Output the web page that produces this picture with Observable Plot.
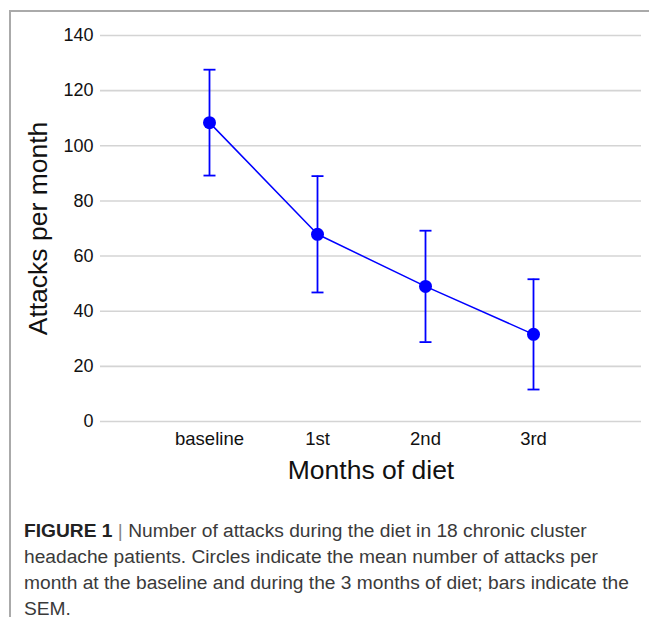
<!DOCTYPE html>
<html>
<head>
<meta charset="utf-8">
<script src="https://cdn.jsdelivr.net/npm/d3@7"></script>
<script src="https://cdn.jsdelivr.net/npm/@observablehq/plot@0.6"></script>
<style>
  html, body { margin: 0; padding: 0; background: #fff; }
  body { width: 649px; height: 622px; position: relative; overflow: hidden; font-family: "Liberation Sans", Arial, sans-serif; }
  #frame { position: absolute; left: 9px; top: 10px; width: 700px; height: 607px; border-top: 2px solid #aaaaaa; border-left: 2px solid #aaaaaa; box-sizing: border-box; }
  #chart { position: absolute; left: 0; top: 0; }
  #caption { position: absolute; left: 24px; top: 518px; width: 625px; white-space: nowrap; font-family: "Liberation Sans", Arial, sans-serif; font-size: 19.2px; line-height: 26px; color: #3a3a3a; }
  #caption b { color: #222; }
  #caption .bar { color: #888; }
</style>
</head>
<body>
<div id="frame"></div>
<div id="chart"></div>
<div id="caption"><b>FIGURE 1</b> <span class="bar">|</span> Number of attacks during the diet in 18 chronic cluster<br>headache patients. Circles indicate the mean number of attacks per<br>month at the baseline and during the 3 months of diet; bars indicate the<br>SEM.</div>
<script>
const months = ["baseline", "1st", "2nd", "3rd"];
const meanAttacks = [108.4, 67.9, 49.0, 31.6];
const semAttacks = [19.2, 21.1, 20.2, 20.0];
const yTicks = [0, 20, 40, 60, 80, 100, 120, 140];

const data = months.map((m, i) => ({
  month: m,
  mean: meanAttacks[i],
  lo: meanAttacks[i] - semAttacks[i],
  hi: meanAttacks[i] + semAttacks[i]
}));

// horizontal cap symbol for error bars
const capSymbol = {
  draw(context, size) {
    const w = Math.sqrt(size / Math.PI);
    context.moveTo(-w, 0);
    context.lineTo(w, 0);
  }
};

const chart = Plot.plot({
  width: 649,
  height: 500,
  marginLeft: 100,
  marginRight: 8,
  marginTop: 35,
  marginBottom: 79,
  style: { fontFamily: "Liberation Sans, Arial, sans-serif", background: "transparent", color: "#111" },
  x: { type: "point", domain: months, padding: 1 },
  y: { domain: [0, 140] },
  marks: [
    Plot.gridY(yTicks, { stroke: "#d4d4d4", strokeOpacity: 1, strokeWidth: 1.6 }),
    Plot.axisY(yTicks, { tickSize: 0, tickPadding: 7, fontSize: 18, label: null }),
    Plot.axisX({ tickSize: 0, tickPadding: 10, fontSize: 18.5, label: null }),
    Plot.ruleX(data, { x: "month", y1: "lo", y2: "hi", stroke: "#0000ff", strokeWidth: 1.8 }),
    Plot.dot(data, { x: "month", y: "hi", symbol: capSymbol, r: 6, fill: "none", stroke: "#0000ff", strokeWidth: 1.8 }),
    Plot.dot(data, { x: "month", y: "lo", symbol: capSymbol, r: 6, fill: "none", stroke: "#0000ff", strokeWidth: 1.8 }),
    Plot.line(data, { x: "month", y: "mean", stroke: "#0000ff", strokeWidth: 1.5 }),
    Plot.dot(data, { x: "month", y: "mean", r: 6.5, fill: "#0000ff", stroke: "none" }),
    Plot.text(["Attacks per month"], { frameAnchor: "left", textAnchor: "middle", lineAnchor: "middle", rotate: -90, dx: -62, fontSize: 26.5, fill: "#111" }),
    Plot.text(["Months of diet"], { frameAnchor: "bottom", textAnchor: "middle", lineAnchor: "middle", dy: 49, fontSize: 26.5, fill: "#111" })
  ]
});
document.getElementById("chart").appendChild(chart);
</script>
</body>
</html>
